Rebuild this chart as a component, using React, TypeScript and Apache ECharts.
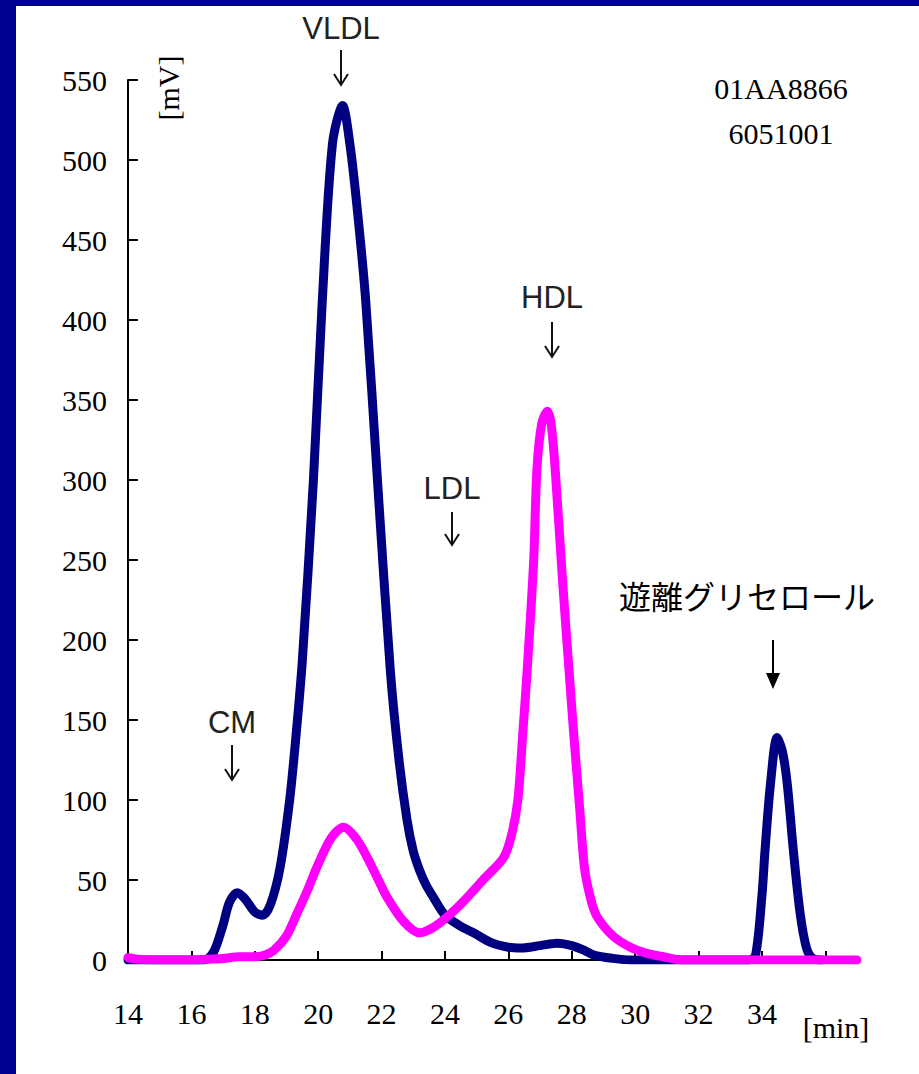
import React, { useEffect, useRef } from 'react';
import * as echarts from 'echarts';

// Blue trace (navy)
const blueTimes = [14, 16.4, 16.7, 17.0, 17.2, 17.45, 17.7, 18.0, 18.25, 18.5, 18.8, 19.1, 19.3, 19.5, 19.85, 20.13, 20.45, 20.77, 21.0, 21.24, 21.5, 21.87, 22.28, 22.55, 22.8, 23.0, 23.2, 23.4, 23.64, 24.0, 24.5, 24.9, 25.44, 26.0, 26.4, 27.0, 27.55, 28.0, 28.4, 28.7, 29.3, 29.9, 33.6, 33.8, 34.0, 34.1, 34.27, 34.48, 34.65, 34.8, 34.99, 35.2, 35.4, 35.6, 35.9];
const blueValues = [0, 0, 5, 22, 36, 42, 38, 30, 28, 35, 58, 100, 140, 187, 300, 412, 510, 534, 510, 468, 412, 300, 180, 125, 88, 68, 56, 47, 39, 28, 21, 17, 11, 8, 7.5, 9, 10.5, 9, 6, 3, 1, 0, 0, 3, 40, 69, 110, 139, 130, 110, 69, 30, 8, 1, 0];

// Magenta trace
const pinkTimes = [14, 14.3, 15, 16, 16.5, 17, 17.5, 18, 18.3, 18.6, 19.0, 19.33, 19.65, 19.96, 20.4, 20.8, 21.2, 21.55, 21.9, 22.18, 22.7, 23.2, 23.6, 24.07, 24.6, 25.2, 25.85, 26.1, 26.3, 26.45, 26.6, 26.8, 26.9, 27.05, 27.23, 27.35, 27.48, 27.7, 27.9, 28.06, 28.25, 28.4, 28.6, 28.8, 29.3, 29.85, 30.4, 30.9, 31.5, 37];
const pinkValues = [1.5, 0.5, 0, 0, 0.5, 1, 2, 2, 3, 6, 15, 29, 43, 58, 76, 83, 76, 64, 50, 39, 24, 17, 20, 27, 37, 50, 64, 78, 100, 140, 183, 250, 306, 335, 343, 335, 306, 240, 185, 142, 95, 58, 38, 27, 15, 8, 4, 2, 0, 0];

const xTickValues = [14, 16, 18, 20, 22, 24, 26, 28, 30, 32, 34, 36];
const xLabelValues = [14, 16, 18, 20, 22, 24, 26, 28, 30, 32, 34];
const xMin = 14;
const xMax = 37;
const yMin = 0;
const yMax = 550;
const yStep = 50;

const xUnit = '[min]';
const yUnit = '[mV]';
const sampleIds = ['01AA8866', '6051001'];
const peakNames = ['CM', 'VLDL', 'LDL', 'HDL'];
const glycerolName = '遊離グリセロール';

const SERIF = '"Liberation Serif", "Times New Roman", serif';
const SANS = '"Liberation Sans", Arial, sans-serif';
const CJK = '"Noto Sans CJK JP", sans-serif';

function zip(a: number[], b: number[]) {
  return a.map((t, i) => [t, b[i]]);
}

function arrow(x: number, y1: number, y2: number) {
  return [
    { type: 'line', shape: { x1: x, y1, x2: x, y2 }, style: { stroke: '#111', lineWidth: 2 } },
    { type: 'polyline', shape: { points: [[x - 7, y2 - 11], [x, y2], [x + 7, y2 - 11]] }, style: { stroke: '#111', lineWidth: 2, fill: null } },
  ];
}

export default function App() {
  const ref = useRef<HTMLDivElement>(null);
  useEffect(() => {
    if (!ref.current) return;
    const chart = echarts.init(ref.current, null, { renderer: 'svg' });
    const peakPos: Record<string, [number, number, number, number]> = {
      CM: [232, 722, 745, 780],
      VLDL: [341, 28, 50, 85],
      LDL: [452, 488, 512, 545],
      HDL: [552, 297, 322, 357],
    };
    const graphics: any[] = [
      { type: 'rect', z: -100, silent: true, shape: { x: 16, y: 6, width: 903, height: 1068 }, style: { fill: '#ffffff' } },
      { type: 'text', x: 168, y: 88, rotation: Math.PI / 2, style: { text: yUnit, font: `30px ${SERIF}`, fill: '#000', align: 'center', verticalAlign: 'middle' } },
      { type: 'text', x: 836, y: 1027, style: { text: xUnit, font: `30px ${SERIF}`, fill: '#000', align: 'center', verticalAlign: 'middle' } },
      { type: 'text', x: 781, y: 88, style: { text: sampleIds[0], font: `30px ${SERIF}`, fill: '#000', align: 'center', verticalAlign: 'middle' } },
      { type: 'text', x: 781, y: 133, style: { text: sampleIds[1], font: `30px ${SERIF}`, fill: '#000', align: 'center', verticalAlign: 'middle' } },
      { type: 'text', x: 747, y: 595, style: { text: glycerolName, font: `32px ${CJK}`, fill: '#000', align: 'center', verticalAlign: 'middle' } },
      { type: 'line', shape: { x1: 773, y1: 640, x2: 773, y2: 676 }, style: { stroke: '#000', lineWidth: 2 } },
      { type: 'polygon', shape: { points: [[766, 673], [780, 673], [773, 689]] }, style: { fill: '#000' } },
    ];
    peakNames.forEach((n) => {
      const [x, ty, a1, a2] = peakPos[n];
      graphics.push({ type: 'text', x, y: ty, style: { text: n, font: `31px ${SANS}`, fill: '#222', align: 'center', verticalAlign: 'middle' } });
      graphics.push(...arrow(x, a1, a2));
    });

    chart.setOption({
      animation: false,
      backgroundColor: '#000090',
      grid: { left: 128, top: 80, right: 62, bottom: 114, containLabel: false },
      xAxis: {
        type: 'value',
        min: xMin,
        max: xMax,
        axisLine: { show: true, onZero: false, lineStyle: { color: '#000', width: 2 } },
        axisTick: { show: true, inside: true, length: 9, customValues: xTickValues, lineStyle: { color: '#000', width: 2 } },
        axisLabel: { customValues: xLabelValues, margin: 38, fontSize: 30, fontFamily: SERIF, color: '#000' },
        splitLine: { show: false },
      },
      yAxis: {
        type: 'value',
        min: yMin,
        max: yMax,
        interval: yStep,
        axisLine: { show: true, lineStyle: { color: '#000', width: 2 } },
        axisTick: { show: true, inside: true, length: 10, lineStyle: { color: '#000', width: 2 } },
        axisLabel: { margin: 21, fontSize: 30, fontFamily: SERIF, color: '#000' },
        splitLine: { show: false },
      },
      series: [
        {
          type: 'line', name: 'blue', data: zip(blueTimes, blueValues), symbol: 'none', smooth: 0.3, z: 2,
          lineStyle: { color: '#000080', width: 9, cap: 'round', join: 'round' },
        },
        {
          type: 'line', name: 'magenta', data: zip(pinkTimes, pinkValues), symbol: 'none', smooth: 0.3, z: 3,
          lineStyle: { color: '#ff00ff', width: 9, cap: 'round', join: 'round' },
        },
      ],
      graphic: graphics,
    });
    return () => chart.dispose();
  }, []);
  return <div ref={ref} style={{ position: 'fixed', left: 0, top: 0, width: 919, height: 1074 }} />;
}
